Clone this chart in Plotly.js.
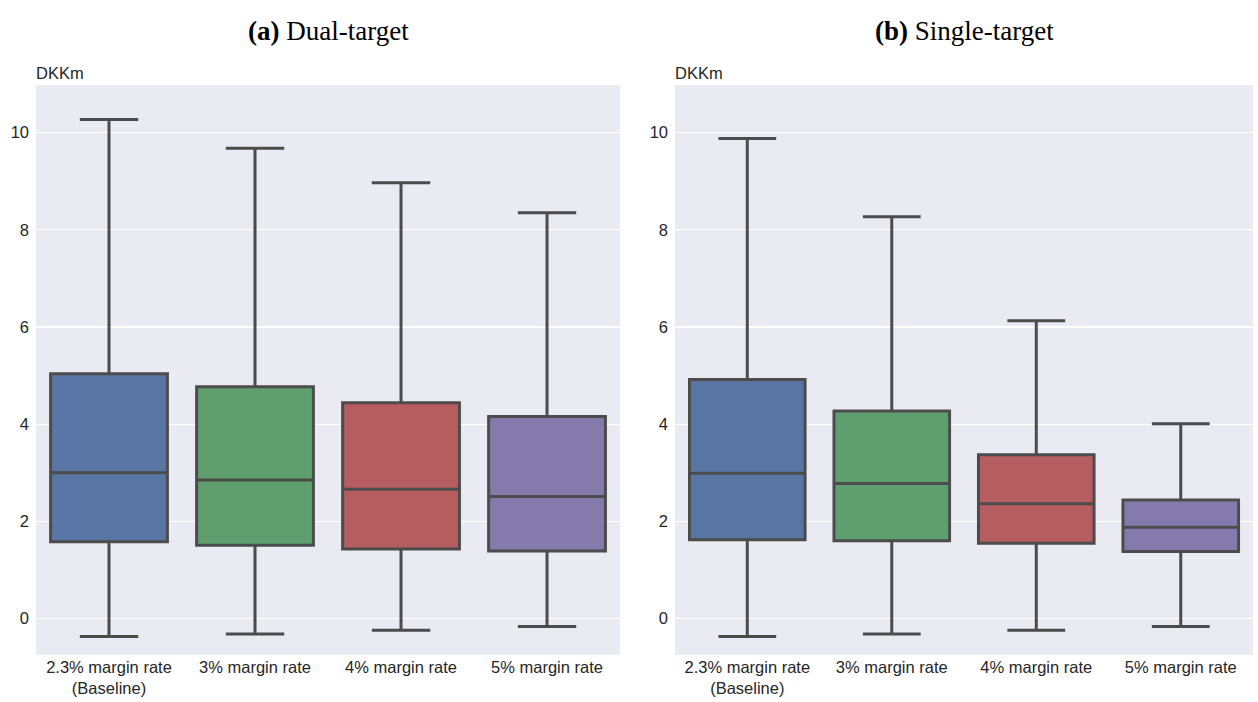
<!DOCTYPE html>
<html>
<head>
<meta charset="utf-8">
<script src="https://cdn.plot.ly/plotly-3.0.1.min.js"></script>
<style>html,body{margin:0;padding:0;background:#fff;}#chart{width:1258px;height:702px;}</style>
</head>
<body>
<div id="chart"></div>
<script>
// Categories
const categories = ["2.3% margin rate<br>(Baseline)", "3% margin rate", "4% margin rate", "5% margin rate"];
const boxColors = ["#5875A4", "#5F9E6E", "#B55D60", "#857AAB"];

// (a) Dual-target box statistics
const dualLower  = [-0.37, -0.32, -0.24, -0.165];
const dualQ1     = [1.58, 1.51, 1.43, 1.39];
const dualMedian = [3.00, 2.85, 2.66, 2.51];
const dualQ3     = [5.04, 4.77, 4.44, 4.16];
const dualUpper  = [10.27, 9.68, 8.97, 8.35];

// (b) Single-target box statistics
const singleLower  = [-0.37, -0.32, -0.24, -0.165];
const singleQ1     = [1.62, 1.60, 1.55, 1.38];
const singleMedian = [2.99, 2.78, 2.36, 1.88];
const singleQ3     = [4.92, 4.27, 3.37, 2.44];
const singleUpper  = [9.88, 8.27, 6.13, 4.01];

const panelTitles = ["<b>(a)</b> Dual-target", "<b>(b)</b> Single-target"];
const yUnit = "DKKm";

const lineColor = "#4C4C4C";
const traces = [];
function addPanel(lower, q1, med, q3, upper, xa, ya) {
  for (let i = 0; i < categories.length; i++) {
    traces.push({
      type: "box",
      x: [categories[i]],
      lowerfence: [lower[i]],
      q1: [q1[i]],
      median: [med[i]],
      q3: [q3[i]],
      upperfence: [upper[i]],
      width: 0.8,
      fillcolor: boxColors[i],
      line: {color: lineColor, width: 3},
      whiskerwidth: 0.5,
      boxpoints: false,
      showlegend: false,
      hoverinfo: "skip",
      xaxis: xa, yaxis: ya
    });
  }
}
addPanel(dualLower, dualQ1, dualMedian, dualQ3, dualUpper, "x", "y");
addPanel(singleLower, singleQ1, singleMedian, singleQ3, singleUpper, "x2", "y2");

const tickFont = {family: "Liberation Sans, Arial, sans-serif", size: 16.5, color: "#262626"};
const yCommon = {
  range: [-0.75, 10.98],
  tickvals: [0, 2, 4, 6, 8, 10],
  gridcolor: "#FFFFFF", gridwidth: 1.2,
  zeroline: false, showline: false, ticks: "",
  tickfont: tickFont, ticklabelstandoff: 6
};
const xCommon = {
  type: "category",
  categoryorder: "array", categoryarray: categories,
  range: [-0.5, 3.5],
  showgrid: false, zeroline: false, showline: false, ticks: "",
  tickfont: tickFont
};

const layout = {
  width: 1258, height: 702,
  margin: {l: 36, r: 5, t: 85, b: 47},
  paper_bgcolor: "#FFFFFF",
  plot_bgcolor: "#EAEAF2",
  boxmode: "overlay",
  xaxis: Object.assign({domain: [0, 0.4799], anchor: "y"}, xCommon),
  yaxis: Object.assign({domain: [0, 1], anchor: "x"}, yCommon),
  xaxis2: Object.assign({domain: [0.5251, 1], anchor: "y2"}, xCommon),
  yaxis2: Object.assign({domain: [0, 1], anchor: "x2"}, yCommon),
  shapes: [
    {type: "rect", xref: "x domain", yref: "y domain", x0: 0, x1: 1, y0: 0, y1: 1, fillcolor: "#EAEAF2", line: {width: 0}, layer: "below"},
    {type: "rect", xref: "x2 domain", yref: "y2 domain", x0: 0, x1: 1, y0: 0, y1: 1, fillcolor: "#EAEAF2", line: {width: 0}, layer: "below"}
  ],
  annotations: [
    {text: panelTitles[0], xref: "x domain", yref: "paper", x: 0.5, y: 1 + 54/570, xanchor: "center", yanchor: "middle", showarrow: false,
     font: {family: "Liberation Serif, DejaVu Serif, serif", size: 27, color: "#000"}},
    {text: panelTitles[1], xref: "x2 domain", yref: "paper", x: 0.5, y: 1 + 54/570, xanchor: "center", yanchor: "middle", showarrow: false,
     font: {family: "Liberation Serif, DejaVu Serif, serif", size: 27, color: "#000"}},
    {text: yUnit, xref: "x domain", yref: "paper", x: 0, y: 1 + 12/570, xanchor: "left", yanchor: "middle", showarrow: false, xshift: -2,
     font: {family: "Liberation Sans, Arial, sans-serif", size: 16.5, color: "#262626"}},
    {text: yUnit, xref: "x2 domain", yref: "paper", x: 0, y: 1 + 12/570, xanchor: "left", yanchor: "middle", showarrow: false, xshift: -2,
     font: {family: "Liberation Sans, Arial, sans-serif", size: 16.5, color: "#262626"}}
  ]
};

Plotly.newPlot("chart", traces, layout, {displayModeBar: false, staticPlot: true});
</script>
</body>
</html>
